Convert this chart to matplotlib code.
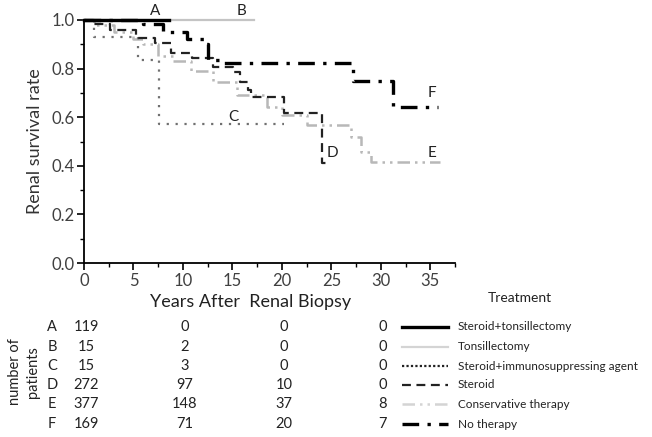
import matplotlib
matplotlib.use("Agg")
import matplotlib.pyplot as plt
from matplotlib.lines import Line2D

plt.rcParams['font.family'] = ['Lato', 'DejaVu Sans']

# ---- data (Kaplan-Meier step curves) ----
a_t = [0, 8.6]
a_s = [1.0, 1.0]
b_t = [0, 17.2]
b_s = [1.0, 1.0]
c_t = [0, 1.0, 5.5, 7.6, 20.2]
c_s = [1.0, 0.93, 0.835, 0.57, 0.57]
d_t = [0, 1.0, 2.6, 5.3, 7.2, 8.8, 10.9, 13.0, 15.1, 15.8, 16.6, 16.9, 20.2, 24.1, 24.6]
d_s = [1.0, 0.985, 0.96, 0.926, 0.905, 0.864, 0.844, 0.807, 0.786, 0.745, 0.712, 0.683, 0.617, 0.412, 0.412]
e_t = [0, 1.0, 3.0, 5.0, 6.0, 7.5, 9.0, 10.8, 13.0, 15.5, 18.5, 20.0, 22.5, 27.0, 28.0, 29.0, 36.0]
e_s = [1.0, 0.98, 0.95, 0.92, 0.90, 0.85, 0.83, 0.79, 0.745, 0.69, 0.64, 0.61, 0.568, 0.52, 0.457, 0.416, 0.416]
f_t = [0, 6.0, 8.0, 10.4, 12.1, 12.5, 13.8, 27.2, 31.2, 35.8]
f_s = [1.0, 0.985, 0.95, 0.92, 0.90, 0.835, 0.823, 0.749, 0.64, 0.64]

groups = ['A', 'B', 'C', 'D', 'E', 'F']
treatments = ['Steroid+tonsillectomy', 'Tonsillectomy', 'Steroid+immunosuppressing agent',
              'Steroid', 'Conservative therapy', 'No therapy']
risk_times = [0, 10, 20, 30]
at_risk = [[119, 0, 0, 0],
           [15, 2, 0, 0],
           [15, 3, 0, 0],
           [272, 97, 10, 0],
           [377, 148, 37, 8],
           [169, 71, 20, 7]]
xticks = [0, 5, 10, 15, 20, 25, 30, 35]
yticks = [0.0, 0.2, 0.4, 0.6, 0.8, 1.0]

# ---- styles ----
styles = {
    'A': dict(color='black', lw=2.4, ls='-'),
    'B': dict(color='#c4c4c4', lw=1.6, ls='-'),
    'C': dict(color='#707070', lw=1.6, ls=(0, (1, 3))),
    'D': dict(color='#222222', lw=1.6, ls=(0, (4, 2.5))),
    'E': dict(color='#b8b8b8', lw=1.8, ls=(0, (5, 2, 1, 2, 1, 2))),
    'F': dict(color='black', lw=2.4, ls=(0, (5, 2.5, 1, 2.5))),
}
curves = {'A': (a_t, a_s), 'B': (b_t, b_s), 'C': (c_t, c_s),
          'D': (d_t, d_s), 'E': (e_t, e_s), 'F': (f_t, f_s)}

W, H = 652, 437
fig = plt.figure(figsize=(W / 100, H / 100), dpi=100)
ax = fig.add_axes([84 / W, 1 - 263 / H, (455 - 84) / W, (263 - 20) / H])

for g in ['B', 'E', 'C', 'D', 'F', 'A']:
    t, s = curves[g]
    ax.step(t, s, where='post', clip_on=False, **styles[g])

ax.set_xlim(0, 37.5)
ax.set_ylim(0, 1.0)
ax.spines['top'].set_visible(False)
ax.spines['right'].set_visible(False)
for sp in ['left', 'bottom']:
    ax.spines[sp].set_linewidth(1.3)
ax.set_xticks(xticks)
ax.set_xticks([x + 2.5 for x in xticks], minor=True)
ax.set_yticks(yticks)
ax.set_yticks([0.1, 0.3, 0.5, 0.7, 0.9], minor=True)
ax.set_yticklabels([f"{v:.1f}" for v in yticks])
ax.tick_params(which='major', length=5, width=1.2, labelsize=12, labelcolor='#404040', pad=2)
ax.tick_params(which='minor', length=3, width=1.0)
ax.set_ylabel('Renal survival rate', fontsize=13, color='#333333', labelpad=6)

# curve labels
lab_kw = dict(fontsize=11, color='#222222', ha='center', va='center', clip_on=False)
ax.text(7.2, 1.035, 'A', **lab_kw)
ax.text(15.9, 1.035, 'B', **lab_kw)
ax.text(15.1, 0.60, 'C', **lab_kw)
ax.text(25.1, 0.453, 'D', **lab_kw)
ax.text(35.2, 0.453, 'E', **lab_kw)
ax.text(35.2, 0.70, 'F', **lab_kw)

# x-axis title
fig.text(251 / W, 1 - 302 / H, 'Years After  Renal Biopsy', fontsize=13,
         ha='center', va='center', color='#222222')
fig.text(520 / W, 1 - 298 / H, 'Treatment', fontsize=10, ha='center', va='center', color='#222222')

# number-at-risk table
row_y = [327, 347, 366, 385, 404, 424]
def xpix(v):
    return 84 + v * (455 - 84) / 37.5

for i, g in enumerate(groups):
    yy = 1 - row_y[i] / H
    fig.text(52 / W, yy, g, fontsize=10.5, ha='center', va='center', color='#222222')
    for j, t in enumerate(risk_times):
        xx = xpix(t) + 2
        fig.text(xx / W, yy, str(at_risk[i][j]), fontsize=10.5, ha='center', va='center', color='#222222')
    # legend sample line
    st = styles[g]
    ls = st['ls']
    lcol = st['color']
    if g == 'B':
        lcol = '#d4d4d4'
    if g == 'C':
        lcol = '#222222'
        ls = (0, (1, 1))
    if g == 'E':
        lcol = '#d4d4d4'
    ln = Line2D([402 / W, 448 / W], [yy, yy], transform=fig.transFigure,
                color=lcol, lw=st['lw'], ls=ls)
    fig.add_artist(ln)
    fig.text(458 / W, yy, treatments[i], fontsize=8.5, ha='left', va='center', color='#222222')

fig.text(15 / W, 1 - 372 / H, 'number of', fontsize=10.5, rotation=90, ha='center', va='center', color='#222222')
fig.text(33 / W, 1 - 372 / H, 'patients', fontsize=10.5, rotation=90, ha='center', va='center', color='#222222')

fig.savefig('out.png', dpi=100)
